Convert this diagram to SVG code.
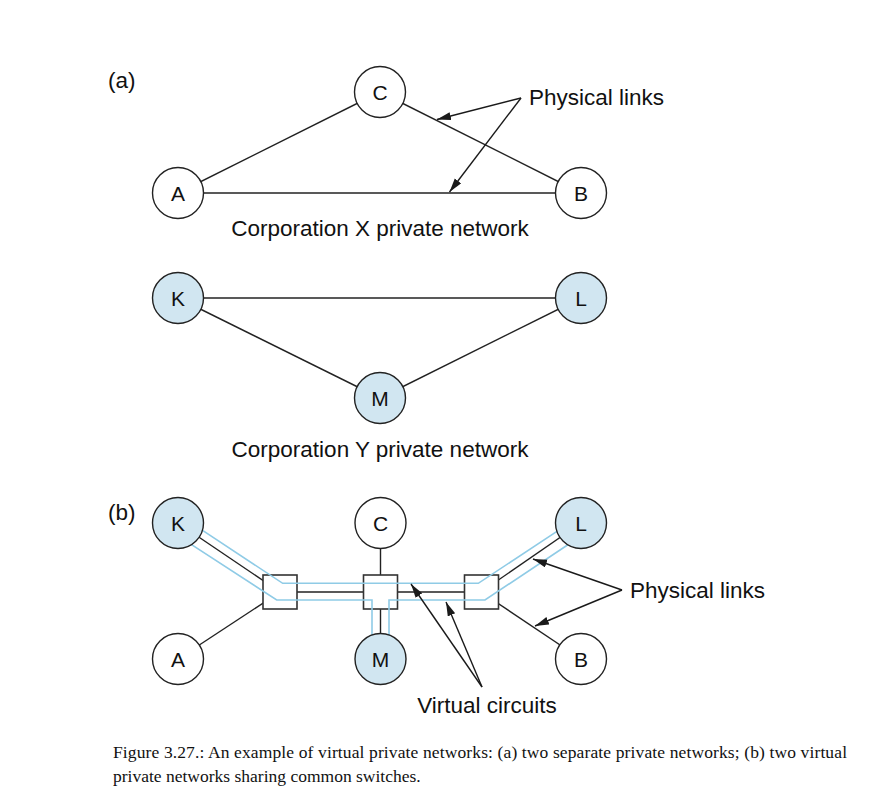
<svg xmlns="http://www.w3.org/2000/svg" width="893" height="797" viewBox="0 0 893 797">
<defs>
<marker id="ah" markerUnits="userSpaceOnUse" markerWidth="15" markerHeight="9" refX="14" refY="4" orient="auto"><path d="M0,0 L14,4 L0,8 z" fill="#1a1a1a"/></marker>
<style>
.lk{stroke:#222;stroke-width:1.4;fill:none}
.vc{stroke:#8fcbe6;stroke-width:1.6;fill:none}
.ar{stroke:#1a1a1a;stroke-width:1.4;fill:none;marker-end:url(#ah)}
.nd{fill:#fff;stroke:#222;stroke-width:1.4}
.nb{fill:#d1e6f1;stroke:#222;stroke-width:1.4}
.sw{fill:#fff;stroke:#333;stroke-width:1.6}
.lt{font-family:"Liberation Sans",Arial,sans-serif;font-size:21px;fill:#111;text-anchor:middle}
.lb{font-family:"Liberation Sans",Arial,sans-serif;font-size:22.5px;fill:#111}
.cap{font-family:"Liberation Serif","Times New Roman",serif;font-size:17.5px;fill:#111}
</style>
</defs>
<rect width="893" height="797" fill="#fff"/>
<g id="connectors">
<line class="lk" x1="380" y1="92" x2="178" y2="193"/>
<line class="lk" x1="380" y1="92" x2="581" y2="193"/>
<line class="lk" x1="178" y1="193" x2="581" y2="193"/>
<line class="lk" x1="178" y1="298" x2="581" y2="298"/>
<line class="lk" x1="178" y1="298" x2="380" y2="398"/>
<line class="lk" x1="581" y1="298" x2="380" y2="398"/>
<line class="lk" x1="178" y1="523" x2="280" y2="592"/>
<line class="lk" x1="178" y1="659" x2="280" y2="592"/>
<line class="lk" x1="280" y1="592" x2="481" y2="592"/>
<line class="lk" x1="380.5" y1="523" x2="380.5" y2="659"/>
<line class="lk" x1="581" y1="523" x2="481" y2="592"/>
<line class="lk" x1="581" y1="659" x2="481" y2="592"/>
</g>
<g id="switch1"><rect class="sw" x="263" y="575" width="34" height="34"/></g>
<g id="switch2"><rect class="sw" x="363.5" y="575" width="34" height="34"/></g>
<g id="switch3"><rect class="sw" x="464.5" y="575" width="34" height="34"/></g>
<g id="virtual-circuits">
<path class="vc" d="M195,525.4 L282.7,583.3 L478.3,583.3 L566,525.4"/>
<path class="vc" d="M185,540.4 L276.7,600 L372,600 L372,650"/>
<path class="vc" d="M389,650 L389,600 L485,600 L575,540"/>
</g>
<g id="arrows">
<line class="ar" x1="521" y1="98" x2="437" y2="119.5"/>
<line class="ar" x1="521" y1="98" x2="449.5" y2="192"/>
<line class="ar" x1="622" y1="590" x2="533" y2="559"/>
<line class="ar" x1="622" y1="590" x2="535" y2="626"/>
<line class="ar" x1="482" y1="687" x2="411" y2="584"/>
<line class="ar" x1="482" y1="687" x2="446" y2="602"/>
</g>
<g id="nodeC_a"><circle class="nd" cx="380" cy="92" r="25.5"/><text class="lt" x="380" y="99.5">C</text></g>
<g id="nodeA_a"><circle class="nd" cx="178" cy="193" r="25.5"/><text class="lt" x="178" y="200.5">A</text></g>
<g id="nodeB_a"><circle class="nd" cx="581" cy="193" r="25.5"/><text class="lt" x="581" y="200.5">B</text></g>
<g id="nodeK_a"><circle class="nb" cx="178" cy="298" r="25.5"/><text class="lt" x="178" y="305.5">K</text></g>
<g id="nodeL_a"><circle class="nb" cx="581" cy="298" r="25.5"/><text class="lt" x="581" y="305.5">L</text></g>
<g id="nodeM_a"><circle class="nb" cx="380" cy="398" r="25.5"/><text class="lt" x="380" y="405.5">M</text></g>
<g id="nodeK_b"><circle class="nb" cx="178" cy="523" r="25.5"/><text class="lt" x="178" y="530.5">K</text></g>
<g id="nodeC_b"><circle class="nd" cx="380.5" cy="523" r="25.5"/><text class="lt" x="380.5" y="530.5">C</text></g>
<g id="nodeL_b"><circle class="nb" cx="581" cy="523" r="25.5"/><text class="lt" x="581" y="530.5">L</text></g>
<g id="nodeA_b"><circle class="nd" cx="178" cy="659" r="25.5"/><text class="lt" x="178" y="666.5">A</text></g>
<g id="nodeM_b"><circle class="nb" cx="380.5" cy="659" r="25.5"/><text class="lt" x="380.5" y="666.5">M</text></g>
<g id="nodeB_b"><circle class="nd" cx="581" cy="659" r="25.5"/><text class="lt" x="581" y="666.5">B</text></g>
<g id="labels">
<text class="lb" x="108" y="88" font-size="20.5">(a)</text>
<text class="lb" x="108" y="520" font-size="20.5">(b)</text>
<text class="lb" x="529" y="105">Physical links</text>
<text class="lb" x="380" y="236" text-anchor="middle">Corporation X private network</text>
<text class="lb" x="380" y="457" text-anchor="middle">Corporation Y private network</text>
<text class="lb" x="630" y="598">Physical links</text>
<text class="lb" x="487" y="713" text-anchor="middle">Virtual circuits</text>
<text class="cap" x="113" y="758" textLength="734" lengthAdjust="spacing">Figure 3.27.: An example of virtual private networks: (a) two separate private networks; (b) two virtual</text>
<text class="cap" x="113" y="782">private networks sharing common switches.</text>
</g>
</svg>
